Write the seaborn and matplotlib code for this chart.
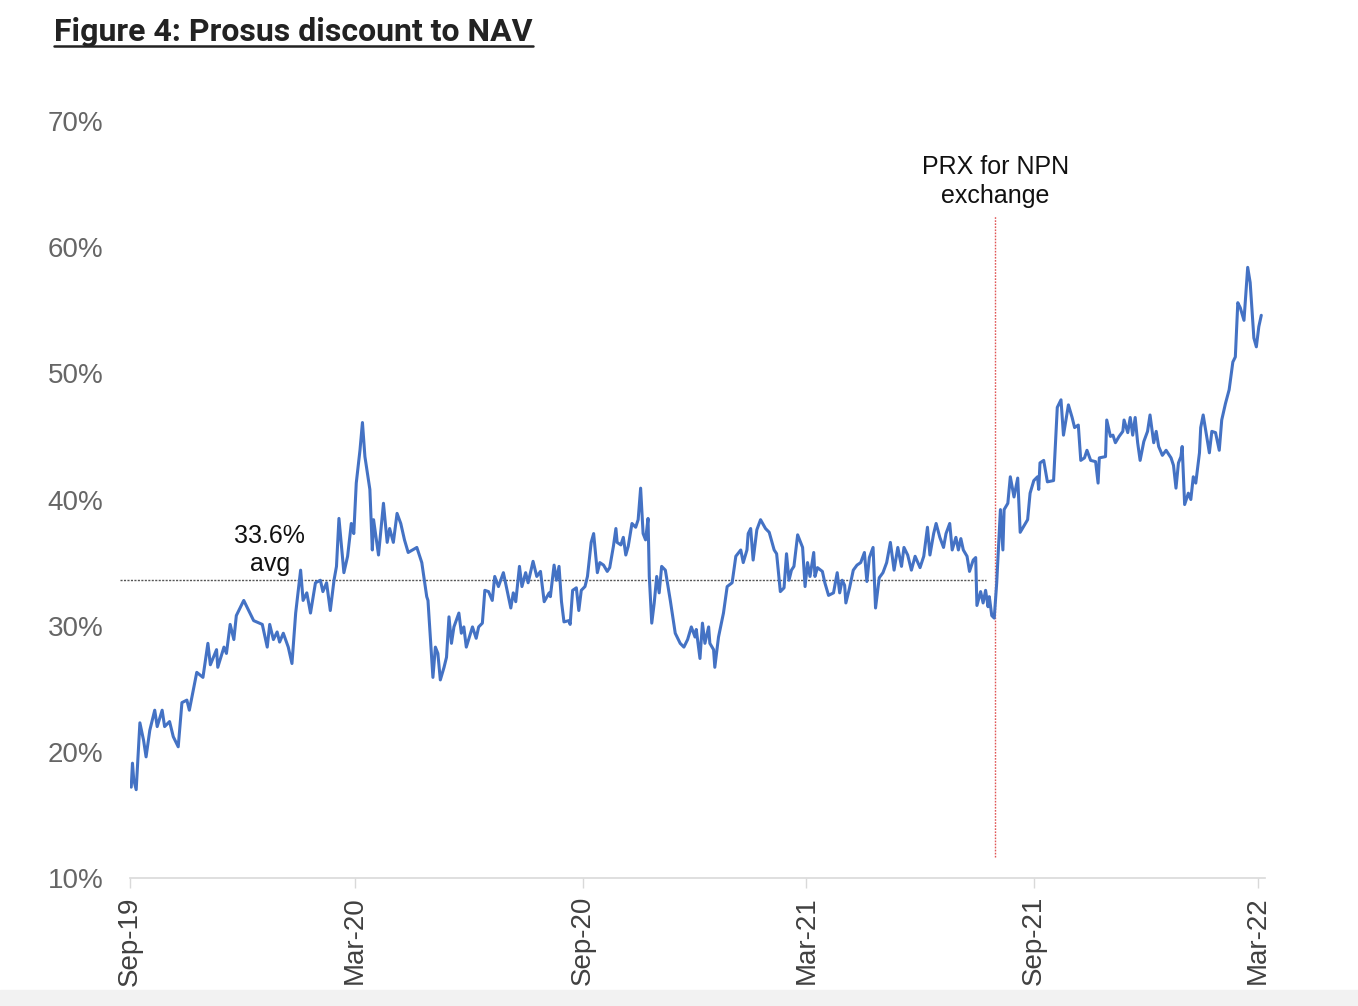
import numpy as np
import pandas as pd
import matplotlib
matplotlib.use("Agg")
import matplotlib.pyplot as plt
import matplotlib.dates as mdates
from matplotlib.lines import Line2D
import seaborn as sns

# ---------------- data ----------------
start_date = "2019-09-01"
days_since_start = [
    1, 2, 3, 5, 8, 11, 13, 16, 20, 22, 26, 28, 32, 35, 39, 42, 46, 48, 50, 54,
    59, 63, 65, 70, 71, 76, 78, 81, 84, 86, 92, 94, 100, 107, 111, 113, 116, 119, 121, 124,
    128, 131, 134, 138, 140, 143, 146, 150, 154, 156, 159, 162, 165, 167, 169, 173, 176, 179, 181, 183,
    186, 188, 190, 194, 196, 197, 201, 205, 208, 210, 213, 216, 219, 222, 225, 232, 236, 240, 241, 245,
    247, 249, 251, 254, 256, 258, 260, 262, 266, 268, 270, 272, 277, 280, 282, 285, 287, 290, 293, 295,
    298, 302, 305, 308, 310, 312, 315, 317, 320, 322, 326, 329, 332, 335, 339, 340, 343, 345, 347, 349,
    351, 355, 356, 358, 361, 363, 365, 368, 370, 373, 375, 378, 380, 383, 386, 388, 391, 393, 394, 397,
    399, 401, 403, 406, 409, 411, 413, 415, 417, 419, 420, 422, 424, 426, 428, 430, 433, 437, 441, 445,
    448, 451, 454, 457, 458, 461, 463, 465, 468, 469, 472, 473, 476, 480, 483, 487, 490, 494, 496, 499,
    500, 502, 504, 507, 510, 514, 517, 521, 523, 526, 529, 531, 533, 535, 537, 540, 544, 546, 548, 550,
    553, 554, 556, 560, 562, 565, 569, 572, 574, 576, 578, 579, 582, 585, 588, 591, 594, 596, 598, 601,
    603, 606, 609, 612, 615, 618, 621, 624, 626, 629, 632, 635, 639, 642, 645, 647, 650, 652, 655, 658,
    660, 663, 665, 668, 670, 672, 674, 677, 679, 682, 684, 685, 688, 690, 692, 694, 695, 697, 699, 701,
    704, 706, 707, 710, 712, 715, 718, 720, 726, 728, 731, 734, 735, 736, 739, 742, 747, 750, 753, 755,
    757, 759, 762, 764, 767, 769, 772, 774, 777, 781, 783, 784, 789, 790, 793, 795, 797, 800, 803, 804,
    807, 809, 811, 813, 815, 817, 820, 823, 825, 828, 830, 832, 835, 838, 842, 844, 846, 848, 850, 851,
    853, 856, 858, 860, 862, 865, 866, 868, 870, 873, 875, 878, 881, 883, 886, 889, 892, 894, 896, 898,
    901, 904, 906, 909, 911, 913, 915,
]
discount_pct = [
    17.2, 19.1, 17.8, 17.0, 22.3, 20.9, 19.6, 21.7, 23.3, 22.0, 23.3, 22.0, 22.4, 21.2, 20.4, 23.9, 24.1, 23.3, 24.3, 26.3,
    25.9, 28.6, 26.9, 28.1, 26.7, 28.3, 27.8, 30.1, 28.9, 30.8, 32.0, 31.6, 30.4, 30.1, 28.3, 30.1, 28.9, 29.5, 28.7, 29.4,
    28.3, 27.0, 31.0, 34.4, 32.0, 32.6, 31.0, 33.4, 33.6, 32.7, 33.4, 31.2, 33.6, 34.7, 38.5, 34.2, 35.5, 38.1, 37.3, 41.3,
    43.9, 46.1, 43.4, 40.8, 36.0, 38.4, 35.6, 39.7, 36.6, 37.7, 36.6, 38.9, 38.1, 36.8, 35.8, 36.2, 35.0, 32.3, 32.0, 25.9,
    28.3, 27.8, 25.7, 26.7, 27.5, 30.7, 28.6, 29.9, 31.0, 29.4, 29.9, 28.3, 29.9, 29.0, 29.9, 30.2, 32.8, 32.7, 32.0, 33.9,
    33.1, 34.2, 32.8, 31.4, 32.6, 31.9, 34.7, 33.1, 34.2, 33.4, 35.1, 33.9, 34.3, 31.9, 32.6, 32.3, 34.8, 33.6, 34.7, 31.9,
    30.3, 30.4, 30.1, 32.8, 33.0, 31.2, 32.8, 33.1, 33.9, 36.6, 37.3, 34.2, 35.0, 34.8, 34.3, 34.6, 36.3, 37.7, 36.6, 36.4,
    37.0, 35.6, 36.3, 38.1, 37.8, 38.4, 40.9, 37.3, 36.8, 38.5, 33.9, 30.2, 31.8, 33.9, 32.6, 34.7, 34.4, 32.0, 29.4, 28.6,
    28.3, 28.9, 29.9, 29.1, 29.7, 27.4, 30.2, 28.6, 29.9, 28.6, 28.1, 26.7, 29.1, 31.0, 33.1, 33.4, 35.5, 36.0, 35.0, 36.0,
    37.3, 37.7, 35.2, 37.6, 38.4, 37.7, 37.4, 36.0, 35.7, 32.7, 33.0, 35.7, 33.6, 34.4, 34.7, 37.2, 36.2, 33.1, 35.0, 33.9,
    35.8, 33.9, 34.6, 34.3, 33.4, 32.4, 32.6, 34.2, 32.6, 33.6, 33.2, 31.8, 33.0, 34.4, 34.8, 35.0, 35.8, 33.5, 35.4, 36.2,
    31.4, 33.8, 34.2, 35.0, 36.6, 34.4, 36.2, 34.7, 36.2, 35.6, 34.4, 35.5, 34.6, 35.5, 37.8, 35.6, 37.3, 38.1, 37.0, 36.2,
    37.3, 38.1, 36.0, 37.0, 36.0, 36.9, 36.0, 35.5, 34.3, 35.2, 35.4, 31.6, 32.7, 31.8, 32.8, 31.5, 32.3, 30.8, 30.6, 33.4,
    39.2, 36.0, 39.2, 39.7, 41.8, 40.2, 41.7, 37.4, 38.4, 40.5, 41.5, 41.8, 40.8, 42.9, 43.1, 41.4, 41.5, 47.3, 47.9, 45.1,
    46.3, 47.5, 46.5, 45.7, 45.9, 43.1, 43.3, 43.9, 43.1, 43.0, 41.3, 43.3, 43.4, 46.3, 45.0, 45.1, 44.5, 45.0, 45.4, 46.3,
    45.3, 46.5, 45.1, 46.5, 44.5, 43.1, 44.6, 45.4, 46.7, 44.5, 45.4, 44.2, 43.5, 43.9, 43.3, 42.7, 40.9, 42.9, 43.4, 44.2,
    39.6, 40.5, 40.0, 41.8, 41.3, 43.7, 45.7, 46.7, 45.5, 43.7, 45.4, 45.3, 43.9, 46.3, 47.6, 48.7, 50.9, 51.3, 55.6, 55.2,
    54.2, 58.4, 57.2, 52.8, 52.1, 53.7, 54.6,
]
average_pct = 33.6
average_label = "33.6%\navg"
exchange_date = "2021-08-01"
exchange_label = "PRX for NPN\nexchange"
tick_dates = ["2019-09-01", "2020-03-01", "2020-09-01", "2021-03-01", "2021-09-01", "2022-03-01"]
y_ticks = [10, 20, 30, 40, 50, 60, 70]
title = "Figure 4: Prosus discount to NAV"

# ---------------- build frame ----------------
t0 = pd.Timestamp(start_date)
df = pd.DataFrame({
    "date": t0 + pd.to_timedelta(days_since_start, unit="D"),
    "discount": discount_pct,
})

# ---------------- style ----------------
sns.set_theme(style="white")
plt.rcParams["font.family"] = ["Liberation Sans", "DejaVu Sans"]

W, H = 1358, 1006
fig = plt.figure(figsize=(W / 100, H / 100), dpi=100)
fig.patch.set_facecolor("white")
ax = fig.add_axes([130 / W, 1 - 878 / H, (1265 - 130) / W, (878 - 121) / H])
ax.set_facecolor("white")

sns.lineplot(data=df, x="date", y="discount", ax=ax, color="#4472C4", linewidth=2.2)

# average line
ax.hlines(average_pct, t0 - pd.Timedelta(days=8), t0 + pd.Timedelta(days=692),
          colors="#555555", linestyles=(0, (1.5, 1.0)), linewidth=1.0, zorder=1,
          clip_on=False)
ax.text(t0 + pd.Timedelta(days=113), 36.0, average_label, ha="center", va="center",
        fontsize=18, color="#111111", linespacing=1.25)

# exchange marker
ex = pd.Timestamp(exchange_date)
ax.vlines(ex, 11.7, 62.5, colors="#e05555", linestyles=(0, (1.2, 1.0)), linewidth=1.0, zorder=1)
ax.text(ex, 65.2, exchange_label, ha="center", va="center", fontsize=18,
        color="#111111", linespacing=1.25)

# axes formatting
ax.set_xlim(t0, t0 + pd.Timedelta(days=918))
ax.set_ylim(10, 70)
ax.set_xticks(pd.to_datetime(tick_dates))
ax.xaxis.set_major_formatter(mdates.DateFormatter("%b-%y"))
ax.set_yticks(y_ticks)
ax.set_yticklabels([f"{v}%" for v in y_ticks])
ax.set_xlabel("")
ax.set_ylabel("")
for s in ["top", "right", "left"]:
    ax.spines[s].set_visible(False)
ax.spines["bottom"].set_color("#d9d9d9")
ax.spines["bottom"].set_linewidth(1.2)
ax.tick_params(axis="x", which="major", length=7, width=1.0, color="#d9d9d9",
               direction="out", pad=6, labelsize=20, labelcolor="#404040", labelrotation=90,
               bottom=True)
ax.tick_params(axis="y", length=0, pad=19, labelsize=20, labelcolor="#666666")
ax.grid(False)

# title with underline
title_txt = fig.text(54 / W, 1 - 41 / H, title, ha="left", va="baseline",
                     fontsize=23, fontweight="bold", color="#222222",
                     family=["Roboto", "DejaVu Sans"])
fig.canvas.draw()
bb = title_txt.get_window_extent(renderer=fig.canvas.get_renderer())
uy = 1 - 46 / H
fig.add_artist(Line2D([bb.x0 / W, bb.x1 / W], [uy, uy], transform=fig.transFigure,
                      color="#222222", linewidth=1.8))

# bottom page band
fig.add_artist(plt.Rectangle((0, 0), 1, 16 / H, transform=fig.transFigure,
                             color="#f2f2f2", zorder=-1))

fig.savefig("out.png", dpi=100)
